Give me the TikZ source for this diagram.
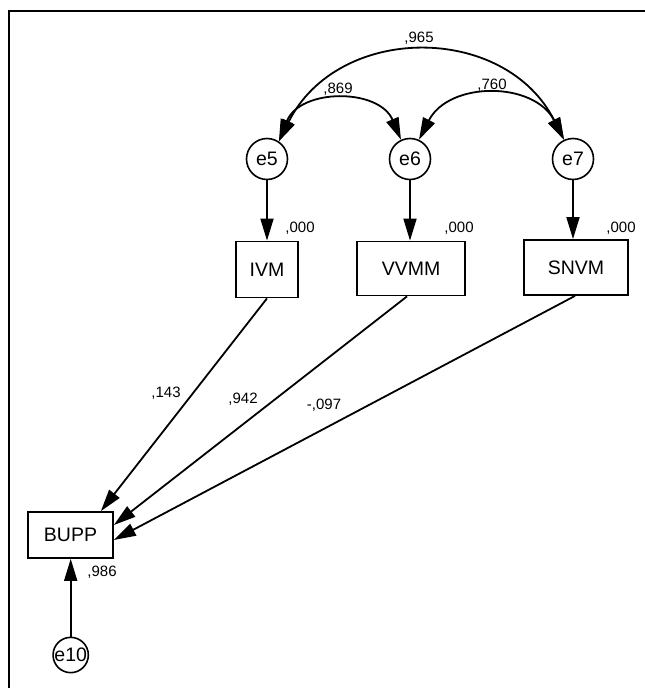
\documentclass[tikz,border=0pt]{standalone}
\usepackage{fontspec}
\setmainfont{Liberation Sans}
\usetikzlibrary{arrows.meta}
\tikzset{
  box/.style={draw, line width=1.8pt, inner sep=0pt, font=\fontsize{19.5}{19.5}\selectfont},
  err/.style={circle, draw, line width=1.6pt, inner sep=0pt, minimum size=41pt, font=\fontsize{19.5}{19.5}\selectfont},
  lab/.style={inner sep=0pt, font=\fontsize{15}{15}\selectfont},
  tipa/.tip={Triangle[length=22pt,width=13pt]},
  arr/.style={line width=1.8pt, -{tipa}},
  darr/.style={line width=1.8pt, {tipa}-{tipa}},
}
\begin{document}
\begin{tikzpicture}[x=1pt,y=-1pt]
\useasboundingbox (0,0) rectangle (645,688);
\draw[line width=2.2pt] (9,688) -- (9,11) -- (645,11);

\node[err] (e5) at (267,159) {e5};
\node[err] (e6) at (410,159) {e6};
\node[err] (e7) at (573,159) {e7};
\node[box, minimum width=62pt, minimum height=56pt] (IVM) at (267,269.5) {IVM};
\node[box, minimum width=108pt, minimum height=54pt] (VVMM) at (411,268.5) {VVMM};
\node[box, minimum width=104pt, minimum height=55pt] (SNVM) at (576,267.5) {SNVM};
\node[box, minimum width=85pt, minimum height=46pt] (BUPP) at (70.5,535) {BUPP};
\node[err, minimum size=35pt] (e10) at (70.7,655) {e10};

\draw[darr] (e5.56) .. controls (338,23) and (505,23) .. (e7.115);
\draw[darr] (e5.56) .. controls (300,88) and (379,88) .. (e6.115);
\draw[darr] (e6.65) .. controls (449,81) and (534,81) .. (e7.115);

\draw[arr] (e5) -- (IVM);
\draw[arr] (e6) -- (e6 |- VVMM.north);
\draw[arr] (e7) -- (e7 |- SNVM.north);

\draw[arr] (IVM.south) -- ([xshift=-13pt]BUPP.north east);
\draw[arr] ([xshift=-4pt]VVMM.south) -- ([yshift=10pt]BUPP.east);
\draw[arr] ([xshift=-1pt]SNVM.south) -- ([yshift=-5pt]BUPP.east);
\draw[arr] (e10) -- (e10 |- BUPP.south);

\node[lab] (l965) at (419,38) {,965};
\node[lab] (l869) at (338,89) {,869};
\node[lab] (l760) at (492,85) {,760};
\node[lab] (l0a) at (300,228) {,000};
\node[lab] (l0b) at (459,228) {,000};
\node[lab] (l0c) at (621,228) {,000};
\node[lab] (l143) at (166,393) {,143};
\node[lab] (l942) at (243,399) {,942};
\node[lab] (l097) at (324,405) {-,097};
\node[lab] (l986) at (102,572) {,986};
\end{tikzpicture}
\end{document}
